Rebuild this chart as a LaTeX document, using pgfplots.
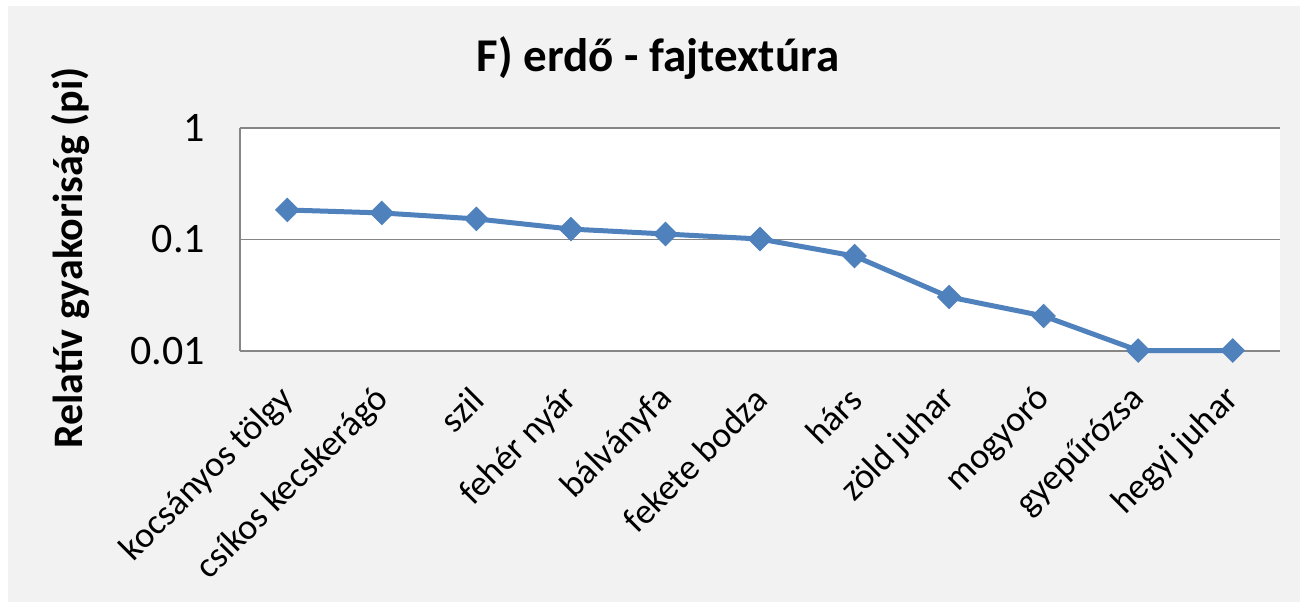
\documentclass[border=0pt]{standalone}
\usepackage{pgfplots}
\pgfplotsset{compat=1.18}
\usepackage{fontspec}
\setmainfont{Carlito}
\definecolor{serie}{HTML}{4F81BD}
\definecolor{bg}{HTML}{F2F2F2}
\definecolor{gridc}{HTML}{868686}
\begin{document}
\begin{tikzpicture}
  % page and chart area (1px = 0.5pt)
  \fill[white] (0,0) rectangle (653.5pt,304pt);
  \fill[bg] (4pt,3pt) rectangle (650pt,301pt);
  \node[font=\fontsize{23.5}{27}\selectfont\bfseries] at (329pt,275pt) {F) erdő - fajtextúra};
  \node[font=\fontsize{21}{25}\selectfont\bfseries, rotate=90] at (35pt,175pt) {Relatív gyakoriság (pi)};
  \begin{axis}[
      at={(120pt,128.5pt)}, anchor=south west,
      scale only axis,
      width=520pt, height=111.5pt,
      ymode=log,
      ymin=0.01, ymax=1,
      xmin=-0.5, xmax=10.5,
      axis background/.style={fill=white},
      axis x line*=bottom,
      axis y line*=left,
      axis line style={gridc, line width=1pt},
      ytick={0.01,0.1,1},
      yticklabels={0.01\kern14pt, 0.1\kern14pt, 1\kern14pt},
      yminorticks=false,
      ymajorgrids=true,
      grid style={gridc, line width=0.6pt},
      major tick length=0pt,
      xtick={0,...,10},
      xticklabels={kocsányos tölgy, csíkos kecskerágó, szil, fehér nyár, bálványfa,
        fekete bodza, hárs, zöld juhar, mogyoró, gyepűrózsa, hegyi juhar},
      xticklabel style={xshift=3pt, yshift=-19pt, rotate=45, anchor=east, font=\fontsize{18}{22}\selectfont},
      yticklabel style={anchor=east, font=\fontsize{21}{25}\selectfont},
      clip=false,
    ]
    \addplot[serie, line width=2.5pt, mark=square*, mark size=4.1pt,
      mark options={fill=serie, rotate=45, line width=0.5pt}] coordinates {
        (0,0.184) (1,0.173) (2,0.153) (3,0.124) (4,0.112) (5,0.101)
        (6,0.071) (7,0.0305) (8,0.0206) (9,0.0101) (10,0.0101)
      };
  \end{axis}
\end{tikzpicture}
\end{document}
